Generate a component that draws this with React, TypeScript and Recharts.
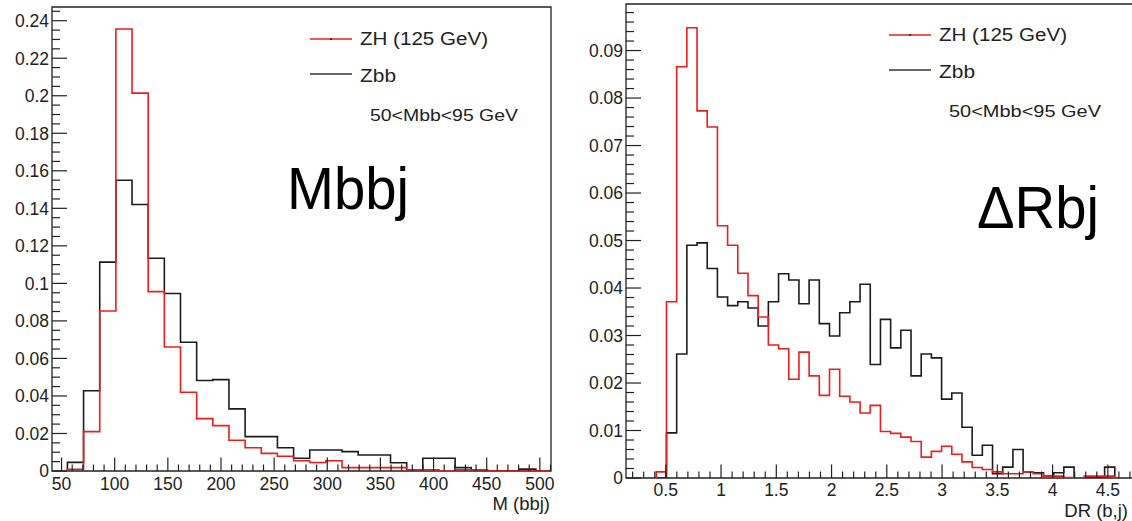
import { LineChart, Line, XAxis, YAxis, ReferenceArea } from "recharts"

// M(bbj): bins of 15.2 GeV starting at 55.5 GeV
const massBinStart = 55.5
const massBinWidth = 15.2
const massZH = [
  0.0009, 0.021, 0.0853, 0.2356, 0.2014, 0.0956, 0.0661, 0.042, 0.0279, 0.0242,
  0.0164, 0.0124, 0.0094, 0.0079, 0.0055, 0.0045, 0.0055, 0.0018, 0.0018, 0.0018,
  0.0018, 0.0007, 0.0007, 0, 0.0007, 0.0007, 0, 0, 0, 0
]
const massZbb = [
  0.0046, 0.0428, 0.1113, 0.155, 0.142, 0.1134, 0.0946, 0.0686, 0.0482, 0.0487,
  0.0331, 0.0183, 0.0183, 0.0124, 0.0068, 0.0112, 0.0112, 0.0103, 0.0085, 0.0085,
  0.0044, 0.0007, 0.0068, 0.0068, 0.0018, 0.0007, 0, 0, 0.001, 0
]
const massYLabels = [0, 0.02, 0.04, 0.06, 0.08, 0.1, 0.12, 0.14, 0.16, 0.18, 0.2, 0.22, 0.24]
const massXLabels = [50, 100, 150, 200, 250, 300, 350, 400, 450, 500]

// DR(b,j): bins of 0.0922 starting at 0.414
const drBinStart = 0.414
const drBinWidth = 0.0922
const drZH = [
  0.0013, 0.0371, 0.0866, 0.0948, 0.0773, 0.0739, 0.0531, 0.049, 0.0431, 0.0384,
  0.0339, 0.028, 0.0272, 0.0208, 0.0265, 0.0215, 0.0174, 0.0229, 0.0172, 0.016,
  0.0137, 0.0153, 0.0098, 0.0094, 0.0086, 0.0077, 0.0044, 0.0056, 0.0067, 0.005,
  0.0034, 0.0022, 0.0018, 0.0013, 0.0009, 0.0009, 0.0013, 0.0009, 0.0004, 0.0004,
  0.0001, 0, 0.0004, 0.0004, 0.0004, 0
]
const drZbb = [
  0, 0.0095, 0.0261, 0.049, 0.0495, 0.0441, 0.0381, 0.0363, 0.0371, 0.0358,
  0.032, 0.0371, 0.043, 0.0417, 0.0367, 0.0417, 0.0325, 0.0299, 0.0348, 0.0371,
  0.0408, 0.0239, 0.0334, 0.0274, 0.0311, 0.0215, 0.0261, 0.0253, 0.0166, 0.0179,
  0.0107, 0.0048, 0.0069, 0.0009, 0.0023, 0.006, 0.0013, 0.0011, 0.0004, 0.0011,
  0.0023, 0, 0, 0, 0.0023, 0
]
const drYLabels = [0, 0.01, 0.02, 0.03, 0.04, 0.05, 0.06, 0.07, 0.08, 0.09]
const drXLabels = [0.5, 1, 1.5, 2, 2.5, 3, 3.5, 4, 4.5]

const RED = "#f01c1c"
const BLACK = "#1c1c1c"
const INK = "#222"
const FONT = '"Liberation Sans", Arial, Helvetica, sans-serif'

// histogram outline: one point per bin low edge, closed with zeros on both ends
function histRows(start: number, width: number, zh: number[], zbb: number[]) {
  const rows = [{ x: start, zh: 0, zbb: 0 }]
  zh.forEach((v, i) => rows.push({ x: start + i * width, zh: v, zbb: zbb[i] }))
  rows.push({ x: start + zh.length * width, zh: 0, zbb: 0 })
  return rows
}

function tickRange(from: number, to: number, step: number) {
  const out: number[] = []
  const n = Math.round((to - from) / step)
  for (let i = 0; i <= n; i++) out.push(Math.round((from + i * step) * 1e6) / 1e6)
  return out
}

const isMajor = (labels: number[], v: number) => labels.some(m => Math.abs(m - v) < 1e-7)

function yTick(labels: number[], margin: number) {
  return (p: any) => {
    const v = p.payload.value
    const major = isMajor(labels, v)
    const ax = p.x + margin
    return (
      <g>
        <line x1={ax} x2={ax + (major ? 15 : 8)} y1={p.y} y2={p.y} stroke={INK} strokeWidth={1.2} />
        {major && (
          <text x={p.x} y={p.y} dy="0.36em" textAnchor="end" fontSize={17.5} fontFamily={FONT} fill={INK}>
            {String(v)}
          </text>
        )}
      </g>
    )
  }
}

function xTick(labels: number[], margin: number) {
  return (p: any) => {
    const v = p.payload.value
    const major = isMajor(labels, v)
    const ay = p.y - margin
    return (
      <g>
        <line x1={p.x} x2={p.x} y1={ay} y2={ay - (major ? 13.5 : 6.5)} stroke={INK} strokeWidth={1.2} />
        {major && (
          <text x={p.x} y={p.y} dy="0.71em" textAnchor="middle" fontSize={17.5} fontFamily={FONT} fill={INK}>
            {String(v)}
          </text>
        )}
      </g>
    )
  }
}

const massRows = histRows(massBinStart, massBinWidth, massZH, massZbb)
const drRows = histRows(drBinStart, drBinWidth, drZH, drZbb)

function MassChart() {
  const xDomain = [41, 510.5]
  const yDomain = [0, 0.2473]
  return (
    <LineChart width={560} height={521} data={massRows} margin={{ top: 7, right: 9, bottom: 20, left: 0 }}>
      <ReferenceArea x1={xDomain[0]} x2={xDomain[1]} y1={yDomain[0]} y2={yDomain[1]} fill="none" stroke={INK} strokeWidth={1.3} />
      <XAxis
        dataKey="x"
        type="number"
        domain={xDomain}
        allowDataOverflow
        ticks={tickRange(50, 510, 10)}
        interval={0}
        height={30}
        axisLine={false}
        tickLine={false}
        tickSize={0}
        tickMargin={6.5}
        tick={xTick(massXLabels, 6.5)}
      />
      <YAxis
        type="number"
        domain={yDomain}
        allowDataOverflow
        ticks={tickRange(0, 0.245, 0.005)}
        interval={0}
        width={52}
        axisLine={false}
        tickLine={false}
        tickSize={0}
        tickMargin={3}
        tick={yTick(massYLabels, 3)}
      />
      <Line type="stepAfter" dataKey="zbb" stroke={BLACK} strokeWidth={1.6} dot={false} isAnimationActive={false} />
      <Line type="stepAfter" dataKey="zh" stroke={RED} strokeWidth={1.6} dot={false} isAnimationActive={false} />
    </LineChart>
  )
}

function DrChart() {
  const xDomain = [0.14, 4.8]
  const yDomain = [0, 0.0998]
  return (
    <LineChart width={600} height={521} data={drRows} margin={{ top: 4, right: 19, bottom: 13, left: 0 }}>
      <ReferenceArea x1={xDomain[0]} x2={xDomain[1]} y1={yDomain[0]} y2={yDomain[1]} fill="none" stroke={INK} strokeWidth={1.3} />
      <XAxis
        dataKey="x"
        type="number"
        domain={xDomain}
        allowDataOverflow
        ticks={tickRange(0.2, 4.8, 0.1)}
        interval={0}
        height={30}
        axisLine={false}
        tickLine={false}
        tickSize={0}
        tickMargin={5.5}
        tick={xTick(drXLabels, 5.5)}
      />
      <YAxis
        type="number"
        domain={yDomain}
        allowDataOverflow
        ticks={tickRange(0, 0.098, 0.002)}
        interval={0}
        width={66}
        axisLine={false}
        tickLine={false}
        tickSize={0}
        tickMargin={3}
        tick={yTick(drYLabels, 3)}
      />
      <Line type="stepAfter" dataKey="zbb" stroke={BLACK} strokeWidth={1.6} dot={false} isAnimationActive={false} />
      <Line type="stepAfter" dataKey="zh" stroke={RED} strokeWidth={1.6} dot={false} isAnimationActive={false} />
    </LineChart>
  )
}

function LegendBlock({ x, y, cutWidth }: { x: number; y: number; cutWidth: number }) {
  return (
    <g fontFamily={FONT} fill={INK}>
      <line x1={x} x2={x + 42} y1={y} y2={y} stroke={RED} strokeWidth={1.6} />
      <line x1={x + 20} x2={x + 22} y1={y} y2={y} stroke={BLACK} strokeWidth={1.6} />
      <text x={x + 50} y={y + 6.3} fontSize={17.5} textLength={128} lengthAdjust="spacingAndGlyphs">ZH (125 GeV)</text>
      <line x1={x} x2={x + 42} y1={y + 35} y2={y + 35} stroke="#333" strokeWidth={1.6} />
      <text x={x + 50} y={y + 43} fontSize={17.5} textLength={36} lengthAdjust="spacingAndGlyphs">Zbb</text>
      <text x={x + 60} y={y + 82} fontSize={16.5} textLength={cutWidth} lengthAdjust="spacingAndGlyphs">50&lt;Mbb&lt;95 GeV</text>
    </g>
  )
}

export default function App() {
  return (
    <div style={{ position: "absolute", left: 0, top: 0, width: 1132, height: 521, overflow: "hidden", background: "#fff" }}>
      <div style={{ position: "absolute", left: 0, top: 0 }}>
        <MassChart />
      </div>
      <div style={{ position: "absolute", left: 560, top: 0 }}>
        <DrChart />
      </div>
      <svg width={1132} height={521} style={{ position: "absolute", left: 0, top: 0, pointerEvents: "none" }}>
        <LegendBlock x={310} y={39} cutWidth={148} />
        <LegendBlock x={889} y={35} cutWidth={152} />
        <text x={287} y={209} fontFamily={FONT} fontSize={60} textLength={122} lengthAdjust="spacingAndGlyphs" fill="#000">Mbbj</text>
        <text x={977} y={228} fontFamily={FONT} fontSize={60} textLength={122} lengthAdjust="spacingAndGlyphs" fill="#000">ΔRbj</text>
        <text x={550} y={510} fontFamily={FONT} fontSize={18.5} textAnchor="end" fill={INK}>M (bbj)</text>
        <text x={1128} y={517} fontFamily={FONT} fontSize={18.5} textAnchor="end" fill={INK}>DR (b,j)</text>
      </svg>
    </div>
  )
}
